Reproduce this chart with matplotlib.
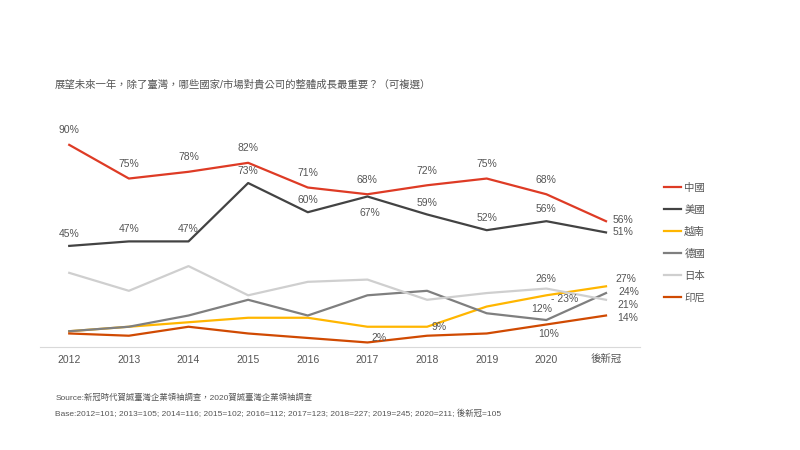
import matplotlib.pyplot as plt

plt.rcParams['font.family'] = ['Liberation Sans', 'Noto Sans CJK TC', 'DejaVu Sans']

# Data
years = ['2012', '2013', '2014', '2015', '2016', '2017', '2018', '2019', '2020', '後新冠']
china = [90, 75, 78, 82, 71, 68, 72, 75, 68, 56]
usa = [45, 47, 47, 73, 60, 67, 59, 52, 56, 51]
vietnam = [7, 9, 11, 13, 13, 9, 9, 18, 23, 27]
germany = [7, 9, 14, 21, 14, 23, 25, 15, 12, 24]
japan = [33, 25, 36, 23, 29, 30, 21, 24, 26, 21]
india = [6, 5, 9, 6, 4, 2, 5, 6, 10, 14]

names = ['中國', '美國', '越南', '德國', '日本', '印尼']
colors = ['#DE3B25', '#434343', '#FFB600', '#7F7F7F', '#CFCFCF', '#D04A02']

fig = plt.figure(figsize=(8, 4.5), dpi=100)
ax = fig.add_axes([0.05, 0.229, 0.75, 0.504])

x = list(range(len(years)))
series = [china, usa, vietnam, germany, japan, india]
for vals, name, c in zip(series, names, colors):
    ax.plot(x, vals, color=c, lw=1.6, label=name)

ax.set_xlim(-0.49, 9.57)
ax.set_ylim(0, 101)
ax.set_xticks(x)
ax.set_xticklabels(years)
ax.set_yticks([])
for s in ['top', 'right', 'left']:
    ax.spines[s].set_visible(False)
ax.spines['bottom'].set_color('#D9D9D9')
ax.tick_params(axis='x', length=0, labelsize=7.5, colors='#555555', pad=6)

lab = dict(fontsize=7.5, color='#555555', textcoords='offset points')

# China labels (above), last one to the right
for i, v in enumerate(china[:-1]):
    ax.annotate(f'{v}%', (i, v), xytext=(0, 7), ha='center', va='bottom', **lab)
ax.annotate(f'{china[-1]}%', (9, china[-1]), xytext=(5, 1), ha='left', va='center', **lab)

# USA labels
for i, v in enumerate(usa[:-1]):
    if i == 5:
        ax.annotate(f'{v}%', (i, v), xytext=(2, -8), ha='center', va='top', **lab)
    else:
        ax.annotate(f'{v}%', (i, v), xytext=(0, 5), ha='center', va='bottom', **lab)
ax.annotate(f'{usa[-1]}%', (9, usa[-1]), xytext=(5, 0), ha='left', va='center', **lab)

# lower series labels
ax.annotate(f'{japan[8]}%', (8, japan[8]), xytext=(0, 3), ha='center', va='bottom', **lab)
ax.annotate(f'- {vietnam[8]}%', (8, vietnam[8]), xytext=(3, -3), ha='left', va='center', **lab)
ax.annotate(f'{germany[8]}%', (8, germany[8]), xytext=(-3, 4), ha='center', va='bottom', **lab)
ax.annotate(f'{india[8]}%', (8, india[8]), xytext=(2, -3), ha='center', va='top', **lab)
ax.annotate(f'{vietnam[9]}%', (9, vietnam[9]), xytext=(7, 5), ha='left', va='center', **lab)
ax.annotate(f'{germany[9]}%', (9, germany[9]), xytext=(9, 1), ha='left', va='center', **lab)
ax.annotate(f'{japan[9]}%', (9, japan[9]), xytext=(8, -4), ha='left', va='center', **lab)
ax.annotate(f'{india[9]}%', (9, india[9]), xytext=(8, -2), ha='left', va='center', **lab)
ax.annotate(f'{india[5]}%', (5, india[5]), xytext=(3, 3), ha='left', va='center', **lab)
ax.annotate(f'{vietnam[6]}%', (6, vietnam[6]), xytext=(3, 0), ha='left', va='center', **lab)

leg = ax.legend(loc='upper left', bbox_to_anchor=(1.025, 0.765), frameon=False,
                fontsize=7.5, handlelength=1.6, handletextpad=0.3, labelspacing=1.15)
for t in leg.get_texts():
    t.set_color('#555555')

fig.text(0.069, 0.812, '展望未來一年，除了臺灣，哪些國家/市場對貴公司的整體成長最重要？（可複選）',
         fontsize=7.5, color='#555555', va='center')
fig.text(0.069, 0.116, 'Source:新冠時代賀誠臺灣企業領袖調查，2020賀誠臺灣企業領袖調查',
         fontsize=6, color='#555555', va='center')
fig.text(0.069, 0.082, 'Base:2012=101; 2013=105; 2014=116; 2015=102; 2016=112; 2017=123; '
         '2018=227; 2019=245; 2020=211; 後新冠=105',
         fontsize=6, color='#555555', va='center')

fig.savefig('out.png', dpi=100, facecolor='white')
